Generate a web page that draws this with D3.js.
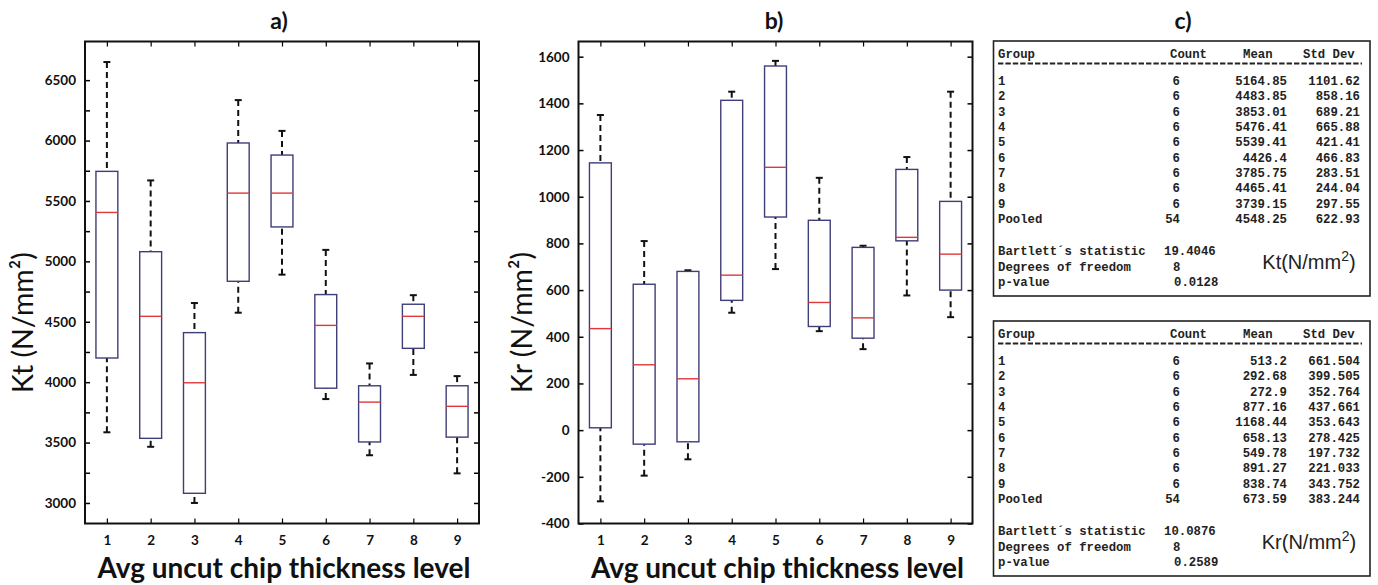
<!DOCTYPE html>
<html>
<head>
<meta charset="utf-8">
<script src="https://cdn.jsdelivr.net/npm/d3@7"></script>
<style>
  html, body { margin: 0; padding: 0; background: #fff; }
  svg { display: block; }
</style>
</head>
<body>
<svg id="chart" width="1378" height="585"></svg>
<script>
// ---------------- DATA ----------------
const categories = [1, 2, 3, 4, 5, 6, 7, 8, 9];

// Panel a) Kt (N/mm²) box plot: whisker low, Q1, median, Q3, whisker high
const ktLow    = [3585, 3465, 3000, 4575, 4890, 3860, 3395, 4060, 3245];
const ktQ1     = [4200, 3535, 3080, 4835, 5285, 3950, 3505, 4280, 3545];
const ktMedian = [5405, 4545, 3995, 5565, 5565, 4470, 3835, 4545, 3800];
const ktQ3     = [5745, 5080, 4410, 5980, 5880, 4725, 3970, 4645, 3970];
const ktHigh   = [6650, 5670, 4655, 6335, 6080, 5095, 4155, 4720, 4050];

// Panel b) Kr (N/mm²) box plot
const krLow    = [-305, -195, -125, 503, 690, 424, 347, 577, 484];
const krQ1     = [10, -60, -50, 556, 913, 444, 394, 811, 600];
const krMedian = [435, 280, 220, 664, 1126, 547, 481, 826, 754];
const krQ3     = [1145, 625, 680, 1413, 1560, 899, 783, 1117, 980];
const krHigh   = [1350, 810, 685, 1450, 1582, 1081, 790, 1170, 1450];

// Axis ticks
const ktTicks = [3000, 3250, 3500, 3750, 4000, 4250, 4500, 4750, 5000, 5250, 5500, 5750, 6000, 6250, 6500];
const ktTickLabels = [3000, 3500, 4000, 4500, 5000, 5500, 6000, 6500];
const krTicks = [-400, -200, 0, 200, 400, 600, 800, 1000, 1200, 1400, 1600];

// Panel c) Bartlett tables
const tableGroups = ["1", "2", "3", "4", "5", "6", "7", "8", "9", "Pooled"];
const ktCount = [6, 6, 6, 6, 6, 6, 6, 6, 6, 54];
const ktMean  = [5164.85, 4483.85, 3853.01, 5476.41, 5539.41, 4426.4, 3785.75, 4465.41, 3739.15, 4548.25];
const ktStd   = [1101.62, 858.16, 689.21, 665.88, 421.41, 466.83, 283.51, 244.04, 297.55, 622.93];
const ktBartlett = ["19.4046", "8", "0.0128"];
const krCount = [6, 6, 6, 6, 6, 6, 6, 6, 6, 54];
const krMean  = [513.2, 292.68, 272.9, 877.16, 1168.44, 658.13, 549.78, 891.27, 838.74, 673.59];
const krStd   = [661.504, 399.505, 352.764, 437.661, 353.643, 278.425, 197.732, 221.033, 343.752, 383.244];
const krBartlett = ["10.0876", "8", "0.2589"];
const statLabels = ["Bartlett\u00b4s statistic", "Degrees of freedom", "p-value"];

// ---------------- DRAW ----------------
const svg = d3.select("#chart");
const sansFont = "Lato, 'Open Sans', sans-serif";
const monoFont = "'Liberation Mono', 'DejaVu Sans Mono', monospace";

function fitText(sel, target) {
  const fs = parseFloat(sel.attr("font-size"));
  const w = sel.node().getComputedTextLength();
  sel.attr("font-size", fs * target / w);
}

function boxPanel(opts) {
  const {x0, x1, y0, y1, domain, ticks, tickLabels, low, q1, med, q3, high, title, titleX, ylabel, ylabelX} = opts;
  const g = svg.append("g");
  const x = d3.scaleLinear().domain([0.5, 9.5]).range([x0, x1]);
  const y = d3.scaleLinear().domain(domain).range([y1, y0]);

  // ticks inward on left and right
  const tlen = 5;
  const left = d3.axisLeft(y).tickValues(ticks).tickSizeInner(-tlen).tickSizeOuter(0)
    .tickFormat(d => tickLabels.includes(d) ? d : "");
  const gl = g.append("g").attr("transform", `translate(${x0},0)`).call(left);
  gl.select(".domain").remove();
  gl.selectAll("line").attr("stroke", "#000").attr("stroke-width", 1.5);
  gl.selectAll("text").attr("x", -9).attr("font-family", sansFont).attr("font-weight", "bold")
    .attr("font-size", 13.5).attr("fill", "#111");

  const right = d3.axisRight(y).tickValues(ticks).tickSizeInner(-tlen).tickSizeOuter(0).tickFormat("");
  const gr = g.append("g").attr("transform", `translate(${x1},0)`).call(right);
  gr.select(".domain").remove();
  gr.selectAll("line").attr("stroke", "#000").attr("stroke-width", 1.5);

  const bottom = d3.axisBottom(x).tickValues(categories).tickSizeInner(-tlen).tickSizeOuter(0);
  const gb = g.append("g").attr("transform", `translate(0,${y1})`).call(bottom);
  gb.select(".domain").remove();
  gb.selectAll("line").attr("stroke", "#000").attr("stroke-width", 1.2);
  gb.selectAll("text").attr("y", 12).attr("dy", "0.71em").attr("font-family", sansFont)
    .attr("font-weight", "bold").attr("font-size", 13.5).attr("fill", "#111");

  const top = d3.axisTop(x).tickValues(categories).tickSizeInner(-tlen).tickSizeOuter(0).tickFormat("");
  const gt = g.append("g").attr("transform", `translate(0,${y0})`).call(top);
  gt.select(".domain").remove();
  gt.selectAll("line").attr("stroke", "#000").attr("stroke-width", 1.2);

  // frame
  g.append("rect").attr("x", x0).attr("y", y0).attr("width", x1 - x0).attr("height", y1 - y0)
    .attr("fill", "none").attr("stroke", "#111").attr("stroke-width", 2);

  const bw = 0.5, cw = 0.16;
  categories.forEach((c, i) => {
    const bx = x(c - bw / 2), bwPx = x(c + bw / 2) - x(c - bw / 2);
    // whiskers
    [[high[i], q3[i]], [low[i], q1[i]]].forEach(([a, b]) => {
      g.append("line").attr("x1", x(c)).attr("x2", x(c)).attr("y1", y(a)).attr("y2", y(b))
        .attr("stroke", "#111").attr("stroke-width", 2).attr("stroke-dasharray", "6,4");
      g.append("line").attr("x1", x(c - cw / 2)).attr("x2", x(c + cw / 2)).attr("y1", y(a)).attr("y2", y(a))
        .attr("stroke", "#111").attr("stroke-width", 2);
    });
    g.append("rect").attr("x", bx).attr("y", y(q3[i])).attr("width", bwPx).attr("height", y(q1[i]) - y(q3[i]))
      .attr("fill", "#fff").attr("stroke", "#3e3e78").attr("stroke-width", 1.4);
    g.append("line").attr("x1", bx).attr("x2", bx + bwPx).attr("y1", y(med[i])).attr("y2", y(med[i]))
      .attr("stroke", "#e0383a").attr("stroke-width", 1.4);
  });

  svg.append("text").attr("x", titleX).attr("y", 29).attr("text-anchor", "middle")
    .attr("font-family", sansFont).attr("font-weight", "bold").attr("font-size", 23).attr("fill", "#111").text(title);

  const yl = svg.append("text").attr("transform", `translate(${ylabelX},${(y0 + y1) / 2 + 40}) rotate(-90)`)
    .attr("text-anchor", "middle").attr("font-family", sansFont).attr("font-size", 30).attr("fill", "#111").text(ylabel);
  fitText(yl, 141);

  const xl = svg.append("text").attr("x", (x0 + x1) / 2 + 2).attr("y", 578).attr("text-anchor", "middle")
    .attr("font-family", sansFont).attr("font-weight", "bold").attr("font-size", 25).attr("fill", "#111")
    .text("Avg uncut chip thickness level");
  fitText(xl, 373);
}

boxPanel({x0: 85, x1: 479, y0: 41.5, y1: 523.5, domain: [2830, 6820], ticks: ktTicks, tickLabels: ktTickLabels,
  low: ktLow, q1: ktQ1, med: ktMedian, q3: ktQ3, high: ktHigh, title: "a)", titleX: 279,
  ylabel: "Kt (N/mm\u00b2)", ylabelX: 33});
boxPanel({x0: 578.5, x1: 972.5, y0: 41.5, y1: 523.5, domain: [-400, 1665], ticks: krTicks, tickLabels: krTicks,
  low: krLow, q1: krQ1, med: krMedian, q3: krQ3, high: krHigh, title: "b)", titleX: 774,
  ylabel: "Kr (N/mm\u00b2)", ylabelX: 532});

svg.append("text").attr("x", 1183).attr("y", 29).attr("text-anchor", "middle")
  .attr("font-family", sansFont).attr("font-weight", "bold").attr("font-size", 23).attr("fill", "#111").text("c)");

function table(top, count, mean, std, bart, unit) {
  const g = svg.append("g").attr("transform", `translate(0,${top - 41})`);
  g.append("rect").attr("x", 993.5).attr("y", 41).attr("width", 376.5).attr("height", 255)
    .attr("fill", "#fff").attr("stroke", "#222").attr("stroke-width", 1.6);
  const fs = 12.3;
  const txt = (x, y, s, anchor) => g.append("text").attr("x", x).attr("y", y).attr("dy", "0.35em")
    .attr("text-anchor", anchor || "start").attr("font-family", monoFont).attr("font-weight", "bold")
    .attr("font-size", fs).attr("fill", "#222").text(s);
  txt(998, 54, "Group");
  txt(1170, 54, "Count");
  txt(1243, 54, "Mean");
  txt(1303, 54, "Std Dev");
  g.append("line").attr("x1", 998).attr("x2", 1362).attr("y1", 63.5).attr("y2", 63.5)
    .attr("stroke", "#222").attr("stroke-width", 1.8).attr("stroke-dasharray", "5.4,2");
  const rowY = d3.scaleLinear().domain([0, 9]).range([80.7, 218.9]);
  tableGroups.forEach((gname, i) => {
    txt(998, rowY(i), gname);
    txt(1180, rowY(i), String(count[i]), "end");
    txt(1287, rowY(i), String(mean[i]), "end");
    txt(1360, rowY(i), String(std[i]), "end");
  });
  const sy = [251, 266.5, 282];
  const sx = [1164, 1173, 1174];
  statLabels.forEach((s, i) => { txt(998, sy[i], s); txt(sx[i], sy[i], bart[i]); });
  const lab = g.append("text").attr("x", 1309).attr("y", 269).attr("text-anchor", "middle")
    .attr("font-family", "'Liberation Sans', Arial, sans-serif").attr("font-size", 20).attr("fill", "#222");
  lab.append("tspan").text(unit + "(N/mm");
  lab.append("tspan").attr("dy", -8).attr("font-size", 14).text("2");
  lab.append("tspan").attr("dy", 8).text(")");
}
table(41, ktCount, ktMean, ktStd, ktBartlett, "Kt");
table(321, krCount, krMean, krStd, krBartlett, "Kr");
</script>
</body>
</html>
